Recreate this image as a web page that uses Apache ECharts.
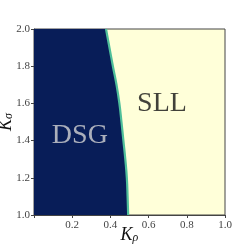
<!DOCTYPE html>
<html><head><meta charset="utf-8">
<script src="https://cdn.jsdelivr.net/npm/echarts@6/dist/echarts.min.js"></script>
<style>html,body{margin:0;padding:0;background:#fff}#c{width:250px;height:246px}</style>
</head><body><div id="c"></div>
<script>
const kSigma = [1.0,1.1,1.2,1.3,1.4,1.5,1.6,1.7,1.8,1.9,2.0];
const kRhoBoundary = [0.493,0.490,0.486,0.478,0.468,0.458,0.447,0.432,0.413,0.395,0.377];
const xTicks = [0.2,0.4,0.6,0.8,1.0];
const phaseLabels = [
  {name:'DSG', x:0.24, y:1.425, color:'#d4d4d4'},
  {name:'SLL', x:0.67, y:1.60, color:'#111111'}
];
const serif = 'Liberation Serif';
const boundaryPts = kSigma.map((s,i)=>[kRhoBoundary[i], s]);
const nameRich = {
  k:{fontFamily:serif,fontStyle:'italic',fontSize:18,color:'#111'},
  s:{fontFamily:serif,fontStyle:'italic',fontSize:12,color:'#111',verticalAlign:'bottom'}
};
const chart = echarts.init(document.getElementById('c'));
chart.setOption({
  animation:false,
  textStyle:{fontFamily:serif},
  grid:{left:34,right:25,top:29,bottom:31,containLabel:false,outerBoundsMode:'none',
    show:true,backgroundColor:'#ffffd9',borderColor:'#444',borderWidth:1},
  xAxis:{type:'value',min:0,max:1,interval:0.2,
    name:'{k|K}{s|ρ}',nameLocation:'middle',nameGap:11,nameMoveOverlap:false,
    nameTextStyle:{fontFamily:serif,rich:nameRich},
    axisLine:{show:true,lineStyle:{color:'#444'}},
    axisTick:{show:true,length:3,lineStyle:{color:'#444'}},
    splitLine:{show:false},
    axisLabel:{fontFamily:serif,fontSize:11,color:'#444',margin:5,
      formatter:v=>xTicks.some(t=>Math.abs(t-v)<1e-9)?v.toFixed(1):''}},
  yAxis:{type:'value',min:1,max:2,interval:0.2,
    name:'{k|K}{s|σ}',nameLocation:'middle',nameGap:19,nameRotate:90,nameMoveOverlap:false,
    nameTextStyle:{fontFamily:serif,rich:nameRich},
    axisLine:{show:true,lineStyle:{color:'#444'}},
    axisTick:{show:true,length:3,lineStyle:{color:'#444'}},
    splitLine:{show:false},
    axisLabel:{fontFamily:serif,fontSize:11,color:'#444',margin:4,formatter:v=>v.toFixed(1)}},
  series:[
    {type:'custom',data:[0],z:1,clip:true,
      renderItem:(params,api)=>{
        const pts=[api.coord([0,kSigma[0]])];
        boundaryPts.forEach(p=>pts.push(api.coord(p)));
        pts.push(api.coord([0,kSigma[kSigma.length-1]]));
        return {type:'polygon',shape:{points:pts},style:{fill:'#081d58'}};
      }},
    {type:'line',data:boundaryPts,symbol:'none',smooth:true,z:2,
      lineStyle:{color:'#4fbf9a',width:2.2}},
    {type:'scatter',symbolSize:0,z:3,
      data:phaseLabels.map(p=>({value:[p.x,p.y],name:p.name,
        label:{show:true,position:'inside',formatter:p.name,fontFamily:serif,fontSize:28,color:p.color}}))}
  ]
});
</script></body></html>
